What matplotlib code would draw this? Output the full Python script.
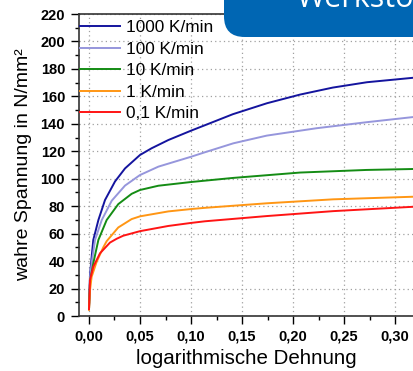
import matplotlib
matplotlib.use("Agg")
import matplotlib.pyplot as plt
from matplotlib.patches import FancyBboxPatch
from matplotlib.ticker import MultipleLocator, FuncFormatter

plt.rcParams['font.family'] = ['Liberation Sans', 'DejaVu Sans']

labels = ["1000 K/min", "100 K/min", "10 K/min", "1 K/min", "0,1 K/min"]
colors = ["#14149e", "#9696dc", "#148c14", "#ff9614", "#ff1414"]

strain_1000 = [0.0, 0.001, 0.0026, 0.0042, 0.0092, 0.0157, 0.0255, 0.0353, 0.05, 0.0614, 0.0778, 0.1, 0.112, 0.141, 0.1745, 0.2069, 0.239, 0.2725, 0.3186]
stress_1000 = [6, 30, 43, 55.4, 69.9, 84.5, 98.0, 107.5, 117.3, 122.2, 128.2, 135, 138.5, 147.0, 155.0, 161.3, 166.4, 170.3, 173.6]

strain_100 = [0.0, 0.001, 0.0026, 0.0059, 0.0125, 0.0223, 0.0353, 0.05, 0.068, 0.1, 0.1137, 0.1415, 0.1742, 0.2232, 0.2725, 0.3186]
stress_100 = [6, 28, 38.4, 55.4, 69.9, 84.0, 95.0, 102.7, 108.8, 116.0, 119.3, 125.8, 131.4, 136.8, 141.2, 145]

strain_10 = [0.0, 0.001, 0.0042, 0.0092, 0.0173, 0.0287, 0.0418, 0.05, 0.068, 0.1, 0.1137, 0.1415, 0.2069, 0.2722, 0.3186]
stress_10 = [5, 25, 38.4, 55.4, 69.9, 81.5, 89.0, 91.8, 94.9, 97.6, 98.6, 100.6, 104.5, 106.4, 107.1]

strain_1 = [0.0, 0.001, 0.0026, 0.0075, 0.014, 0.0173, 0.0287, 0.0418, 0.05, 0.0778, 0.1, 0.1137, 0.1742, 0.2395, 0.3186]
stress_1 = [4.5, 18.9, 28.6, 39.5, 50, 54.5, 64.5, 70.6, 72.6, 76.2, 77.9, 78.8, 82.1, 85.0, 86.9]

strain_01 = [0.0, 0.001, 0.0042, 0.0108, 0.0206, 0.0272, 0.0336, 0.05, 0.0778, 0.1, 0.1137, 0.1742, 0.2395, 0.3186]
stress_01 = [5, 26.2, 35.9, 45.7, 53.5, 56.3, 58.5, 61.8, 65.6, 67.8, 69.0, 72.8, 76.4, 79.6]

series_x = [strain_1000, strain_100, strain_10, strain_1, strain_01]
series_y = [stress_1000, stress_100, stress_10, stress_1, stress_01]

fig = plt.figure(figsize=(4.14, 3.71), dpi=100)
ax = fig.add_axes([79/414, 55/371, 1 - 79/414, (316 - 14)/371])

for xs, ys, c, lab in zip(series_x, series_y, colors, labels):
    ax.plot(xs, ys, color=c, lw=1.4, label=lab)

ax.set_xlim(-0.0098, 0.3186)
ax.set_ylim(0, 220)
ax.xaxis.set_major_locator(MultipleLocator(0.05))
ax.xaxis.set_minor_locator(MultipleLocator(0.025))
ax.yaxis.set_major_locator(MultipleLocator(20))
ax.yaxis.set_minor_locator(MultipleLocator(10))
ax.xaxis.set_major_formatter(FuncFormatter(lambda v, p: f"{v:.2f}".replace(".", ",")))
ax.yaxis.set_major_formatter(FuncFormatter(lambda v, p: f"{v:.0f}"))
ax.tick_params(which='major', direction='out', length=6, width=1, labelsize=10.5, pad=4)
ax.tick_params(which='minor', direction='out', length=3, width=1)
for lab in ax.get_xticklabels() + ax.get_yticklabels():
    lab.set_fontweight('bold')
ax.grid(True, which='major', color='#a0a0a0', linestyle=(0, (1, 2.5)), linewidth=0.9)
ax.spines['right'].set_visible(False)
for s in ['left', 'bottom', 'top']:
    ax.spines[s].set_linewidth(1.2)
    ax.spines[s].set_color('#333333')

ax.set_xlabel("logarithmische Dehnung", fontsize=14.8, labelpad=3.5)
ax.set_ylabel("wahre Spannung in N/mm²", fontsize=14, labelpad=6)

leg = ax.legend(loc='upper left', bbox_to_anchor=(0.0, 0.982), frameon=False,
                fontsize=12.4, handlelength=2.33, handletextpad=0.35,
                borderaxespad=0.05, borderpad=0.0, labelspacing=0.37)

# blue header box (cropped)
box = FancyBboxPatch((224/414, (371 - 37)/371), 0.6, 0.2,
                     boxstyle="round,pad=0,rounding_size=0.05",
                     transform=fig.transFigure, facecolor='#0066b3',
                     edgecolor='none', zorder=10, mutation_aspect=414/371)
fig.patches.append(box)
fig.text(297/414, (371 - 7)/371, "Werkstoffe", color='white', fontsize=22,
         fontfamily='Open Sans', va='baseline', ha='left', zorder=11)

fig.savefig("out.png", dpi=100)
